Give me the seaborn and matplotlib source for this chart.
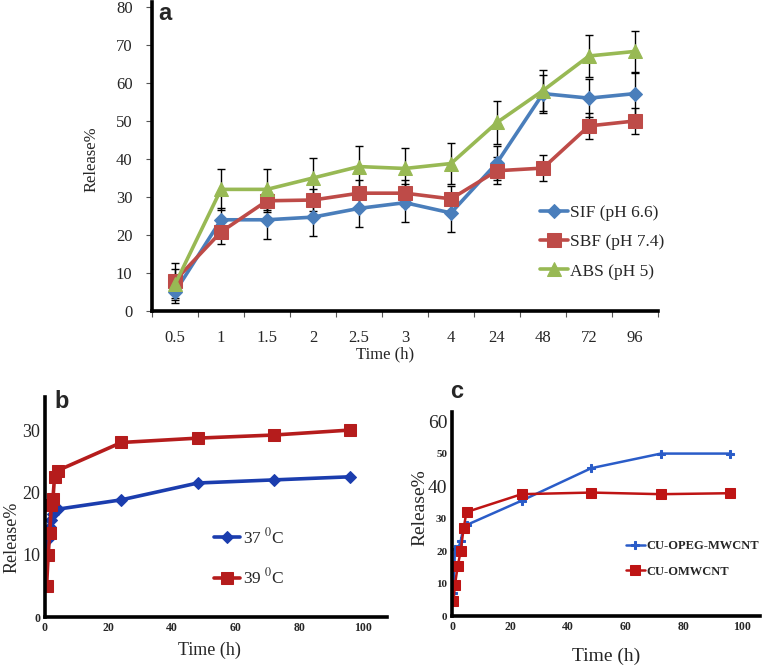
import matplotlib
matplotlib.use("Agg")
import matplotlib.pyplot as plt
import numpy as np
import pandas as pd
import seaborn as sns

# panel a - release in three media
times_a = ["0.5", "1", "1.5", "2", "2.5", "3", "4", "24", "48", "72", "96"]
sif = [5, 24, 24, 24.7, 27, 28.5, 25.8, 39, 57.2, 56, 57.2]
sbf = [8, 20.8, 29, 29.2, 31, 31, 29.5, 36.9, 37.6, 48.7, 50]
abs_ = [7, 32, 32, 35, 38, 37.5, 38.8, 49.6, 58, 67.1, 68.3]
sif_err = [3, 3, 5, 5, 5, 5, 5, 4.5, 5, 5, 5.5]
sbf_err = [4.5, 3.3, 3, 3, 3.5, 3.5, 3.5, 3.5, 3.5, 3.5, 3.3]
abs_err = [4, 5.3, 5.3, 5.3, 5.3, 5.5, 5.4, 5.7, 5.4, 5.5, 5.4]
labels_a = ["SIF (pH 6.6)", "SBF (pH 7.4)", "ABS (pH 5)"]

# panel b - temperature
times_b = [0.5, 1, 1.5, 2, 2.5, 3, 4, 24, 48, 72, 96]
t37 = [10, 12.5, 14.5, 15.5, 16.5, 17, 17.3, 18.8, 21.5, 22, 22.5]
t39 = [5, 10, 13.5, 18, 19, 22.5, 23.5, 28, 28.7, 29.2, 30]

# panel c - carriers
times_c = [0.5, 1, 2, 3, 4, 5, 24, 48, 72, 96]
opeg = [7, 20.5, 20.5, 23, 27.5, 28, 35.5, 45.5, 50, 50]
omw = [4.5, 9.5, 15.5, 20, 27, 32, 37.5, 38, 37.5, 37.8]

sns.set_style("white")
plt.rcParams["font.family"] = ["Liberation Serif", "DejaVu Serif"]
plt.rcParams["mathtext.fontset"] = "stix"

W, H = 762, 669
fig = plt.figure(figsize=(W / 100, H / 100), dpi=100)


def box(l, t, r, b):
    return [l / W, 1 - b / H, (r - l) / W, (b - t) / H]


def style(ax, lw):
    for s in ["top", "right"]:
        ax.spines[s].set_visible(False)
    for s in ["left", "bottom"]:
        ax.spines[s].set_linewidth(lw)
        ax.spines[s].set_color("black")


# ---------- a ----------
ax = fig.add_axes(box(152, 2, 658, 311))
pos = np.arange(len(times_a))
cols_a = ["#4A7EBB", "#BE4B48", "#98B954"]
marks_a = ["D", "s", "^"]
sizes_a = [7, 10, 10]
for vals, err, c, m, ms, lab in zip([sif, sbf, abs_], [sif_err, sbf_err, abs_err],
                                   cols_a, marks_a, sizes_a, labels_a):
    ax.errorbar(pos, vals, yerr=err, fmt="none", ecolor="black", elinewidth=1,
                capsize=3, capthick=1, zorder=1)
    sns.lineplot(x=pos, y=vals, ax=ax, color=c, marker=m, markersize=ms,
                 markeredgecolor=c, linewidth=2.6, label=lab, zorder=2)
ax.set_xlim(-0.5, 10.5)
ax.set_ylim(0, 81.3)
ax.set_yticks(range(0, 81, 10))
ax.set_xticks(pos)
ax.set_xticklabels(times_a)
ax.set_xticks(np.arange(-0.5, 11, 1), minor=True)
ax.tick_params(axis="x", which="major", length=0, labelsize=12, pad=14)
ax.tick_params(axis="x", which="minor", length=4, width=0.8, direction="out",
               bottom=True, color="#555555")
ax.tick_params(axis="y", length=4, width=0.8, direction="out", left=True,
               color="#555555", labelsize=12, pad=10)
style(ax, 2.6)
ax.set_xlabel("Time (h)", fontsize=12)
ax.xaxis.set_label_coords(0.46, -0.115)
ax.set_ylabel("Release%", fontsize=12)
ax.yaxis.set_label_coords(-0.103, 0.49)
ax.legend(loc="upper left", bbox_to_anchor=(540 / W, 1 - 205 / H),
          bbox_transform=fig.transFigure, frameon=False, fontsize=12.5,
          handlelength=1.6, handletextpad=0.15, labelspacing=0.75,
          borderpad=0, borderaxespad=0)
fig.text(165 / W, 1 - 14 / H, "a", fontsize=17, fontweight="bold",
         family="Liberation Sans", ha="center", va="center")

# ---------- b ----------
ax = fig.add_axes(box(45, 397, 387, 617))
sns.lineplot(x=times_b, y=t37, ax=ax, color="#1B3DAE", marker="D",
             markersize=6, markeredgecolor="#1B3DAE", linewidth=2.6,
             label="37 $^{0}$C")
sns.lineplot(x=times_b, y=t39, ax=ax, color="#B51C1C", marker="s",
             markersize=9, markeredgecolor="#B51C1C", linewidth=2.6,
             label="39 $^{0}$C")
ax.set_xlim(0, 107.5)
ax.set_ylim(0, 35.3)
ax.set_xticks(range(0, 101, 20))
ax.set_yticks([0, 10, 20, 30])
ax.tick_params(length=0)
for t in ax.get_xticklabels():
    t.set_fontsize(8.5)
    t.set_fontweight("bold")
for t, v in zip(ax.get_yticklabels(), [0, 10, 20, 30]):
    if v == 0:
        t.set_fontsize(8.5)
        t.set_fontweight("bold")
    else:
        t.set_fontsize(13)
style(ax, 2.6)
ax.set_xlabel("Time (h)", fontsize=13)
ax.xaxis.set_label_coords(0.48, -0.114)
ax.set_ylabel("Release%", fontsize=13)
ax.yaxis.set_label_coords(-0.073, 0.36)
ax.legend(loc="upper left", bbox_to_anchor=(214 / W, 1 - 527 / H),
          bbox_transform=fig.transFigure, frameon=False, fontsize=12.5,
          handlelength=1.5, handletextpad=0.15, labelspacing=1.2,
          borderpad=0, borderaxespad=0)
fig.text(62 / W, 1 - 402 / H, "b", fontsize=17, fontweight="bold",
         family="Liberation Sans", ha="center", va="center")

# ---------- c ----------
ax = fig.add_axes(box(452, 412, 760, 616))
sns.lineplot(x=times_c, y=opeg, ax=ax, color="#2A5CC8", marker="P",
             markersize=6, markeredgecolor="#2A5CC8", linewidth=1.8,
             label="CU-OPEG-MWCNT")
sns.lineplot(x=times_c, y=omw, ax=ax, color="#BE1414", marker="s",
             markersize=7, markeredgecolor="#BE1414", linewidth=1.8,
             label="CU-OMWCNT")
ax.set_xlim(0, 106.2)
ax.set_ylim(0, 62.8)
ax.set_xticks(range(0, 101, 20))
ax.set_yticks(range(0, 61, 10))
ax.tick_params(length=0)
for t in ax.get_xticklabels():
    t.set_fontsize(8.5)
    t.set_fontweight("bold")
for t, v in zip(ax.get_yticklabels(), range(0, 61, 10)):
    if v in (40, 60):
        t.set_fontsize(14)
    else:
        t.set_fontsize(8)
        t.set_fontweight("bold")
style(ax, 2.6)
ax.set_xlabel("Time (h)", fontsize=14)
ax.xaxis.set_label_coords(0.5, -0.157)
ax.set_ylabel("Release%", fontsize=14)
ax.yaxis.set_label_coords(-0.078, 0.53)
ax.legend(loc="upper left", bbox_to_anchor=(626 / W, 1 - 540 / H),
          bbox_transform=fig.transFigure, frameon=False,
          prop={"size": 9, "weight": "bold"},
          handlelength=1.5, handletextpad=0.1, labelspacing=1.1,
          borderpad=0, borderaxespad=0)
fig.text(457 / W, 1 - 392 / H, "c", fontsize=17, fontweight="bold",
         family="Liberation Sans", ha="center", va="center")

fig.savefig("out.png", dpi=100)
